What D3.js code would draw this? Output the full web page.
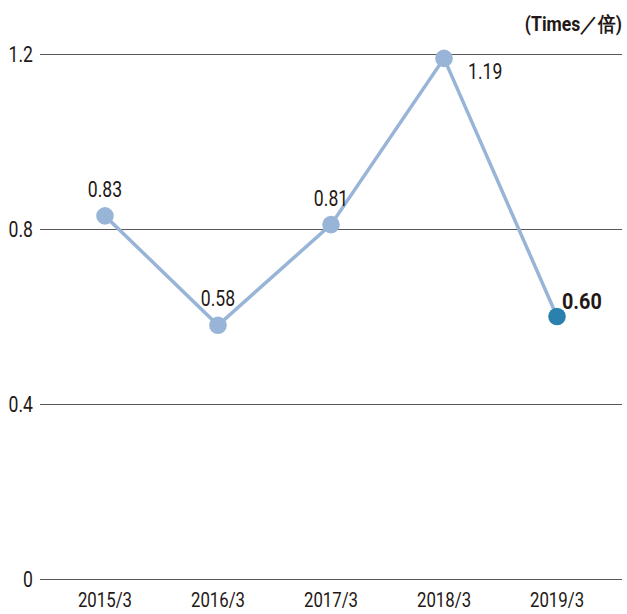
<!DOCTYPE html>
<html>
<head>
<meta charset="utf-8">
<script src="https://cdn.jsdelivr.net/npm/d3@7"></script>
<style>
  html, body { margin: 0; padding: 0; background: #fff; }
  svg text { font-family: "Roboto", "Liberation Sans", sans-serif; fill: #231815; }
</style>
</head>
<body>
<div id="chart"></div>
<script>
const years = [`2015/3`, `2016/3`, `2017/3`, `2018/3`, `2019/3`];
const values = [0.83, 0.58, 0.81, 1.19, 0.60];
const yTicks = [0, 0.4, 0.8, 1.2];
const tickLabels = [`0`, `0.4`, `0.8`, `1.2`];
const valueLabels = [`0.83`, `0.58`, `0.81`, `1.19`, `0.60`];
const unitLabel = `(Times／倍)`;

const width = 627;
const height = 614;
const left = 40;
const right = 622;
const squeeze = 0.8; // condensed look

const svg = d3.select(`#chart`)
  .append(`svg`)
    .attr(`width`, width)
    .attr(`height`, height);

const x = d3.scalePoint()
  .domain(years)
  .range([left, right])
  .padding(0.575);

const y = d3.scaleLinear()
  .domain([0, 1.2])
  .range([579, 54]);

const place = (px, py, k = squeeze) => `translate(${px},${py}) scale(${k},1)`;

// grid lines + y labels
const grid = svg.append(`g`);
grid.selectAll(`line`)
  .data(yTicks)
  .enter().append(`line`)
    .attr(`x1`, left)
    .attr(`x2`, right)
    .attr(`y1`, d => y(d) + 0.5)
    .attr(`y2`, d => y(d) + 0.5)
    .attr(`stroke`, `#595757`)
    .attr(`stroke-width`, 1);

grid.selectAll(`text`)
  .data(yTicks)
  .enter().append(`text`)
    .attr(`transform`, d => place(33, y(d) + 8))
    .attr(`text-anchor`, `end`)
    .attr(`font-size`, 22)
    .text((d, i) => tickLabels[i]);

// x labels
svg.append(`g`).selectAll(`text`)
  .data(years)
  .enter().append(`text`)
    .attr(`transform`, d => place(x(d), 607))
    .attr(`text-anchor`, `middle`)
    .attr(`font-size`, 21)
    .text(d => d);

// unit
svg.append(`text`)
  .attr(`transform`, place(right, 31, 0.88))
  .attr(`text-anchor`, `end`)
  .attr(`font-size`, 20)
  .attr(`font-weight`, `bold`)
  .text(unitLabel);

const line = d3.line()
  .x((d, i) => x(years[i]))
  .y(d => y(d));

svg.append(`path`)
  .datum(values)
  .attr(`d`, line)
  .attr(`fill`, `none`)
  .attr(`stroke`, `#98b5d8`)
  .attr(`stroke-width`, 3.5);

svg.append(`g`).selectAll(`circle`)
  .data(values)
  .enter().append(`circle`)
    .attr(`cx`, (d, i) => x(years[i]))
    .attr(`cy`, d => y(d))
    .attr(`r`, 8.8)
    .attr(`fill`, (d, i) => i === values.length - 1 ? `#2a81ae` : `#98b5d8`);

// value labels: first three above, 1.19 lower right, 0.60 upper right
const labelX = (d, i) => i < 3 ? x(years[i]) : x(years[i]) + (i === 3 ? 24 : 5);
const labelY = (d, i) => i < 3 ? y(d) - 19 : y(d) + (i === 3 ? 21 : -7.5);

svg.append(`g`).selectAll(`text`)
  .data(values)
  .enter().append(`text`)
    .attr(`transform`, (d, i) => place(labelX(d, i), labelY(d, i), i === 4 ? 0.9 : squeeze))
    .attr(`text-anchor`, (d, i) => i < 3 ? `middle` : `start`)
    .attr(`font-size`, 22)
    .attr(`font-weight`, (d, i) => i === 4 ? `bold` : `normal`)
    .text((d, i) => valueLabels[i]);
</script>
</body>
</html>
